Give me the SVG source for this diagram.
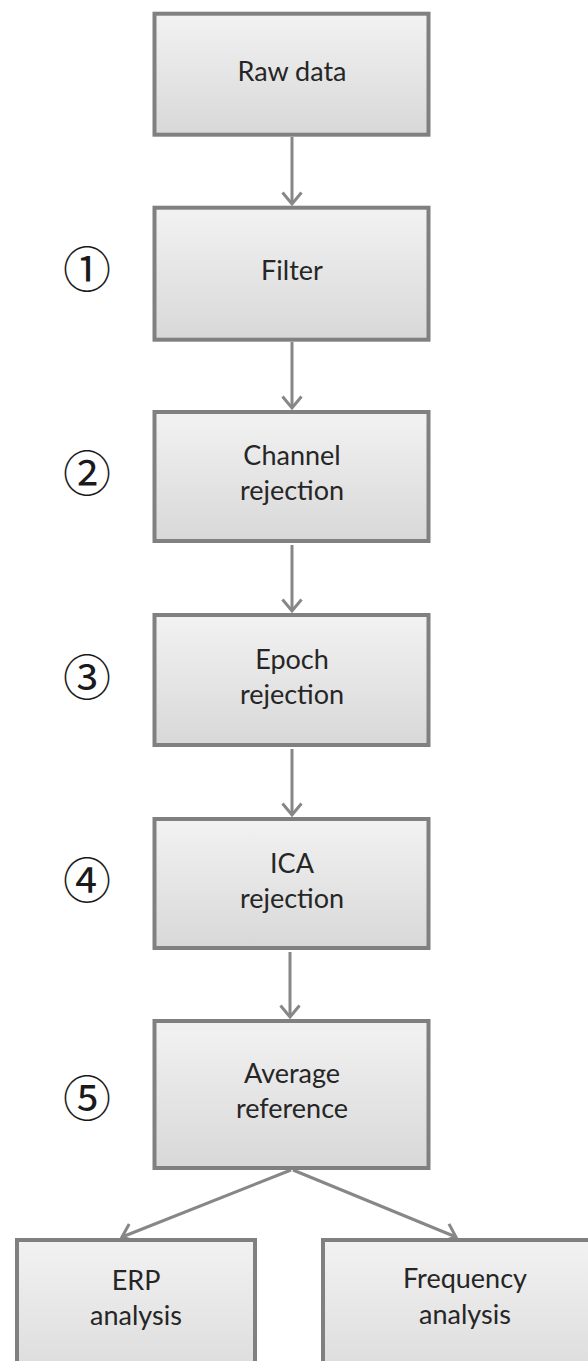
<svg xmlns="http://www.w3.org/2000/svg" width="588" height="1361" viewBox="0 0 588 1361">
<defs>
<linearGradient id="g" x1="0" y1="0" x2="0" y2="1">
<stop offset="0" stop-color="#f2f2f2"/>
<stop offset="1" stop-color="#d8d8d8"/>
</linearGradient>
<marker id="arr" markerUnits="userSpaceOnUse" markerWidth="24" markerHeight="24" viewBox="0 0 24 24" refX="12" refY="12" orient="auto" overflow="visible">
<path d="M0.5,2.5 L12,12 L0.5,21.5" fill="none" stroke="#878787" stroke-width="3"/>
</marker>
<style>
.box{fill:url(#g);stroke:#808080;stroke-width:4;}
.t{font-family:Lato,"Open Sans",sans-serif;font-size:27px;fill:#262626;text-anchor:middle;}
.n{font-family:"Noto Sans CJK JP","DejaVu Sans",sans-serif;font-size:48px;fill:#1a1a1a;text-anchor:middle;}
.c{stroke:#878787;stroke-width:3;fill:none;marker-end:url(#arr);}
</style>
</defs>
<rect width="588" height="1361" fill="#ffffff"/>
<g id="connectors">
<line class="c" x1="292" y1="137" x2="292" y2="204"/>
<line class="c" x1="292" y1="342" x2="292" y2="408"/>
<line class="c" x1="292" y1="545" x2="292" y2="611"/>
<line class="c" x1="292" y1="749" x2="292" y2="815"/>
<line class="c" x1="290" y1="952" x2="290" y2="1017"/>
<line class="c" x1="291" y1="1170" x2="122" y2="1237"/>
<line class="c" x1="293" y1="1170" x2="456" y2="1237"/>
</g>
<g id="raw">
<rect class="box" x="154.5" y="13.7" width="274" height="121"/>
<text class="t" x="292" y="81">Raw data</text>
</g>
<g id="filter">
<rect class="box" x="154.5" y="207.7" width="274" height="132"/>
<text class="t" x="292" y="280">Filter</text>
</g>
<g id="channel">
<rect class="box" x="154.5" y="412" width="274" height="129"/>
<text class="t" x="292" y="465">Channel</text>
<text class="t" x="292" y="500">rejection</text>
</g>
<g id="epoch">
<rect class="box" x="154.5" y="615" width="274" height="130"/>
<text class="t" x="292" y="669">Epoch</text>
<text class="t" x="292" y="704">rejection</text>
</g>
<g id="ica">
<rect class="box" x="154.5" y="819" width="274" height="129"/>
<text class="t" x="292" y="873">ICA</text>
<text class="t" x="292" y="908">rejection</text>
</g>
<g id="average">
<rect class="box" x="154.5" y="1021" width="274" height="147"/>
<text class="t" x="292" y="1083">Average</text>
<text class="t" x="292" y="1118">reference</text>
</g>
<g id="erp">
<rect class="box" x="17" y="1240" width="238" height="160"/>
<text class="t" x="136" y="1290">ERP</text>
<text class="t" x="136" y="1325">analysis</text>
</g>
<g id="frequency">
<rect class="box" x="323" y="1240" width="290" height="160"/>
<text class="t" x="465" y="1288">Frequency</text>
<text class="t" x="465" y="1324">analysis</text>
</g>
<g id="step1"><text class="n" x="87" y="287">①</text></g>
<g id="step2"><text class="n" x="87" y="491">②</text></g>
<g id="step3"><text class="n" x="87" y="695">③</text></g>
<g id="step4"><text class="n" x="87" y="898">④</text></g>
<g id="step5"><text class="n" x="87" y="1116">⑤</text></g>
</svg>
